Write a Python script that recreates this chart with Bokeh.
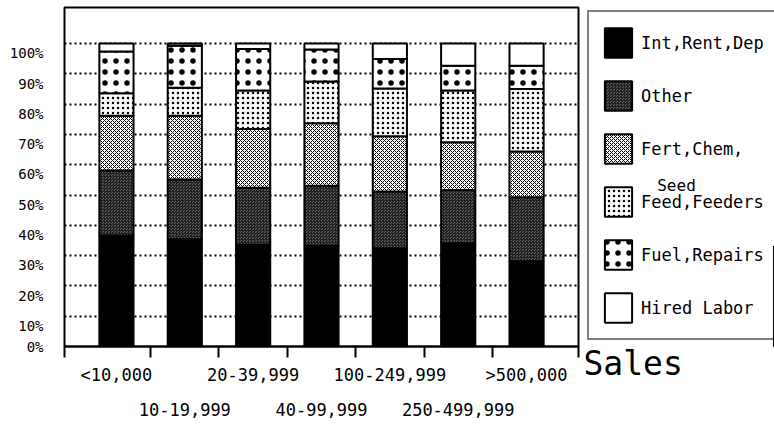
from bokeh.plotting import figure
from bokeh.layouts import row
from bokeh.models import (Label, Legend, LegendItem, FixedTicker, Range1d,
                          ColumnDataSource, Title)
from bokeh.embed import file_html
from bokeh.resources import INLINE

# ---- data (percent of total expenses) ----
categories = ["<10,000", "10-19,999", "20-39,999", "40-99,999",
              "100-249,999", "250-499,999", ">500,000"]
series_names = ["Int,Rent,Dep", "Other", "Fert,Chem,", "Feed,Feeders",
                "Fuel,Repairs", "Hired Labor"]
int_rent_dep = [36.6, 35.5, 33.6, 33.3, 32.4, 34.1, 28.1]
other = [21.5, 19.6, 18.8, 19.8, 18.8, 17.6, 21.2]
fert_chem_seed = [18.1, 21.1, 19.4, 20.6, 18.2, 15.7, 15.1]
feed_feeders = [7.4, 9.2, 12.7, 13.8, 15.8, 17.1, 20.6]
fuel_repairs = [13.8, 13.9, 13.7, 10.5, 9.7, 8.2, 7.7]
hired_labor = [2.6, 0.7, 1.8, 2.0, 5.1, 7.3, 7.3]
y_ticks = [0, 10, 20, 30, 40, 50, 60, 70, 80, 90, 100]
y_tick_labels = ["0%", "10%", "20%", "30%", "40%", "50%",
                 "60%", "70%", "80%", "90%", "100%"]

xs = [i + 1 for i in range(len(categories))]
keys = ["a", "b", "c", "d", "e", "f"]
src = ColumnDataSource(dict(x=xs, a=int_rent_dep, b=other, c=fert_chem_seed,
                            d=feed_feeders, e=fuel_repairs, f=hired_labor))

FONT = "DejaVu Sans Mono"

fills = ["black", "#666666", "white", "white", "white", "white"]
hatches = [None, "criss_cross", "diagonal_cross", "dot", "dot", None]
hscales = [1, 3, 4, 5, 11, 1]
hweights = [1, 1, 1, 1.0, 0.5, 1]
hcolors = ["black", "#222222", "black", "black", "black", "black"]
style = dict(fill_color=fills, hatch_pattern=hatches, hatch_scale=hscales,
             hatch_weight=hweights, hatch_color=hcolors,
             line_color="black", line_width=2)

TOP, BOTTOM = 7, 87

# ---------------- main chart ----------------
p = figure(width=580, height=433, output_backend="svg", toolbar_location=None,
           x_range=Range1d(0.24, 7.76), y_range=Range1d(0, 111.9),
           min_border_left=64, min_border_right=2, min_border_top=TOP,
           min_border_bottom=BOTTOM, background_fill_color="white",
           border_fill_color="white")
p.outline_line_color = "black"
p.outline_line_width = 2

renderers = p.vbar_stack(keys, x="x", width=0.5, source=src, **style)

p.xgrid.visible = False
p.ygrid.ticker = FixedTicker(ticks=y_ticks[1:])
p.ygrid.grid_line_color = "black"
p.ygrid.grid_line_width = 2
p.ygrid.grid_line_dash = "2 3"

# y labels sit just below their gridlines (as in the original)
label_pos = [0] + [t - 3.2 for t in y_ticks[1:]]
ya = p.yaxis[0]
ya.ticker = FixedTicker(ticks=label_pos)
ya.major_label_overrides = {pos: lab for pos, lab in zip(label_pos, y_tick_labels)}
ya.major_label_text_font = FONT
ya.major_label_text_font_size = "14px"
ya.major_label_text_color = "black"
ya.major_label_standoff = 21
ya.major_tick_out = 0
ya.major_tick_in = 0
ya.minor_tick_out = 0
ya.minor_tick_in = 0
ya.axis_line_color = None

xa = p.xaxis[0]
mids = [x + 0.5 for x in xs[:-1]]
xa.ticker = FixedTicker(ticks=xs, minor_ticks=[0.24] + mids + [7.76])
xa.major_label_overrides = {
    x: (lab + "\n ") if i % 2 == 0 else (" \n" + lab)
    for i, (x, lab) in enumerate(zip(xs, categories))}
xa.major_label_text_font = FONT
xa.major_label_text_font_size = "17px"
xa.major_label_text_color = "black"
xa.major_label_text_line_height = 1.77
xa.major_label_standoff = 7
xa.major_tick_out = 0
xa.major_tick_in = 0
xa.minor_tick_out = 11
xa.minor_tick_in = 0
xa.axis_line_width = 2
xa.minor_tick_line_width = 2
xa.minor_tick_line_color = "black"

# ---------------- legend / axis-title panel ----------------
# x range chosen so that the swatch-carrier bars fall to the right, off the page
q = figure(width=194, height=433, output_backend="svg", toolbar_location=None,
           x_range=Range1d(-300, -106), y_range=Range1d(0, 339),
           min_border_left=0, min_border_right=0, min_border_top=TOP,
           min_border_bottom=BOTTOM, background_fill_color="white",
           border_fill_color="white")
q.outline_line_color = None
q.axis.visible = False
q.grid.visible = False
legend_renderers = q.vbar_stack(keys, x="x", width=0.5, source=src, **style)

items = [LegendItem(label=n, renderers=[r]) for n, r in zip(series_names, legend_renderers)]
legend = Legend(items=items, location=(7, 6), orientation="vertical",
                glyph_width=34, glyph_height=37, spacing=16, padding=12,
                label_standoff=6, label_text_font=FONT,
                label_text_font_size="17px", label_text_color="black",
                border_line_color="black", border_line_width=2,
                background_fill_alpha=0)
q.add_layout(legend)
q.add_layout(Label(x=-204, y=161, text="Seed", text_align="center",
                   text_baseline="middle", text_font=FONT,
                   text_font_size="16px", text_color="black", level="overlay"))
q.add_layout(Title(text="Sales", align="left", offset=3, standoff=-9,
                   text_font=FONT, text_font_size="33px",
                   text_font_style="normal", text_color="black"), "below")

layout = row(p, q, spacing=0)
open("out.html", "w").write(file_html(layout, INLINE))
